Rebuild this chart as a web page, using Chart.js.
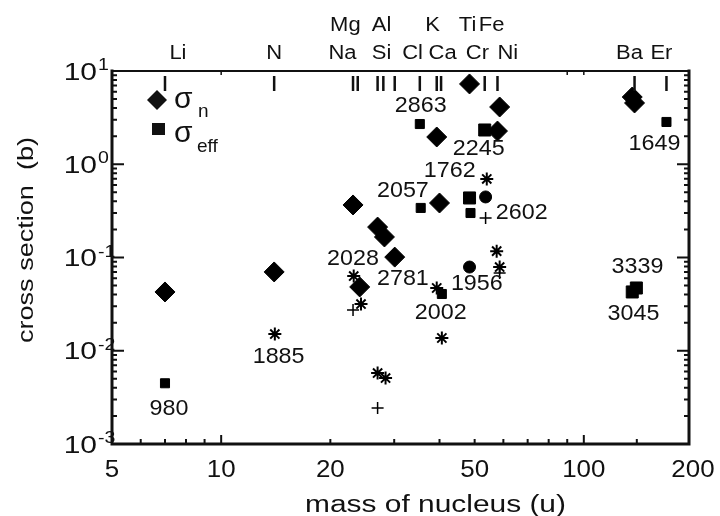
<!DOCTYPE html>
<html>
<head>
<meta charset="utf-8">
<script src="https://cdn.jsdelivr.net/npm/chart.js@4.4.1/dist/chart.umd.min.js"></script>
<style>
  html, body { margin: 0; padding: 0; background: #fff; }
  #wrap { width: 720px; height: 516px; }
</style>
</head>
<body>
<div id="wrap"><canvas id="chart" width="720" height="516"></canvas></div>
<script>
// sigma_n (diamonds)
const diamondMass = [7, 14, 23.1, 27.0, 28.2, 30.1, 24.1, 39.3, 40, 48.4, 58.6, 57.8, 136, 138];
const diamondSigma = [0.0427, 0.070, 0.366, 0.212, 0.166, 0.101, 0.0483, 1.96, 0.384, 7.26, 4.11, 2.27, 5.26, 4.54];
// sigma_eff (squares, small and larger ones)
const squareMass = [7.0, 35.3, 169, 35.5, 48.7, 40.6];
const squareSigma = [0.00448, 2.70, 2.84, 0.340, 0.300, 0.0406];
const bigSquareMass = [53.3, 48.4, 136, 139.6];
const bigSquareSigma = [2.33, 0.435, 0.0427, 0.0471];
// other marks
const circleMass = [53.6, 48.4];
const circleSigma = [0.446, 0.079];
const starMass = [54, 57.5, 58.6, 23.2, 24.3, 14.06, 27.0, 28.4, 39.3, 40.6];
const starSigma = [0.695, 0.117, 0.079, 0.0633, 0.0317, 0.0151, 0.00577, 0.0051, 0.0471, 0.0137];
const plusMass = [53.6, 23.1, 27.0, 58.6];
const plusSigma = [0.265, 0.0274, 0.00243, 0.068];

// number annotations
const noteText = ['980', '1885', '2028', '2781', '2057', '2863', '2245', '1762', '2602', '1649', '1956', '2002', '3339', '3045'];
const noteMass = [7.18, 14.4, 23.1, 31.7, 31.7, 35.5, 51.3, 42.7, 67.4, 156.6, 50.7, 40.3, 140.6, 137.1];
const noteSigma = [0.00243, 0.00879, 0.0988, 0.0603, 0.530, 4.32, 1.49, 0.867, 0.308, 1.69, 0.0533, 0.0261, 0.0811, 0.0254];

// elements along the top
const elementTickMass = [7, 14, 23.1, 23.8, 27, 28, 30.1, 35.3, 39.3, 40.4, 53.3, 57.8, 138, 169];
const upperElements = ['Mg', 'Al', 'K', 'Ti', 'Fe'];
const upperElementMass = [22.0, 27.7, 38.3, 47.8, 55.7];
const lowerElements = ['Li', 'N', 'Na', 'Si', 'Cl', 'Ca', 'Cr', 'Ni', 'Ba', 'Er'];
const lowerElementMass = [7.6, 14, 21.6, 27.7, 33.7, 40.8, 50.9, 61.7, 133.7, 163.7];

// axis ticks
const xTickLabels = [5, 10, 20, 50, 100, 200];
const xMajorTicks = [10, 100];
const xMinorTicks = [6, 7, 8, 9, 20, 30, 40, 50, 60, 70, 80, 90, 140];
const xTopTicks = [10, 90, 100];
const yExponents = [1, 0, -1, -2, -3];

const FONT = '"Liberation Sans", Arial, Helvetica, sans-serif';

function pts(xs, ys) {
  return xs.map((x, i) => ({ x: x, y: ys[i] }));
}

function stretchText(ctx, text, x, y, size, sx, align, baseline) {
  ctx.save();
  ctx.translate(x, y);
  ctx.scale(sx, 1);
  ctx.font = size + 'px ' + FONT;
  ctx.textAlign = align;
  ctx.textBaseline = baseline;
  ctx.fillText(text, 0, 0);
  ctx.restore();
}

const decorPlugin = {
  id: 'decor',
  afterDatasetsDraw(chart) {
    const ctx = chart.ctx;
    const a = chart.chartArea;
    const xs = chart.scales.x;
    const ys = chart.scales.y;
    ctx.save();
    ctx.fillStyle = '#111';
    ctx.strokeStyle = '#111';

    // frame
    ctx.lineCap = 'square';
    ctx.lineWidth = 3;
    ctx.beginPath();
    ctx.moveTo(a.left, a.top); ctx.lineTo(a.left, a.bottom); ctx.lineTo(a.right, a.bottom); ctx.lineTo(a.right, a.top);
    ctx.stroke();
    ctx.lineWidth = 2;
    ctx.beginPath();
    ctx.moveTo(a.left, a.top); ctx.lineTo(a.right, a.top);
    ctx.stroke();
    ctx.lineCap = 'butt';

    // y ticks, both sides
    ctx.lineWidth = 2;
    for (let e = -3; e <= 1; e++) {
      const py = ys.getPixelForValue(Math.pow(10, e));
      ctx.beginPath();
      ctx.moveTo(a.left, py); ctx.lineTo(a.left + 12, py);
      ctx.moveTo(a.right, py); ctx.lineTo(a.right - 12, py);
      ctx.stroke();
      if (e < 1) {
        for (let k = 2; k <= 9; k++) {
          const pm = ys.getPixelForValue(k * Math.pow(10, e));
          ctx.beginPath();
          ctx.moveTo(a.left, pm); ctx.lineTo(a.left + 5, pm);
          ctx.moveTo(a.right, pm); ctx.lineTo(a.right - 5, pm);
          ctx.stroke();
        }
      }
    }
    // x ticks
    xMajorTicks.forEach((v) => {
      const px = xs.getPixelForValue(v);
      ctx.beginPath(); ctx.moveTo(px, a.bottom); ctx.lineTo(px, a.bottom - 9); ctx.stroke();
    });
    xMinorTicks.forEach((v) => {
      const px = xs.getPixelForValue(v);
      ctx.beginPath(); ctx.moveTo(px, a.bottom); ctx.lineTo(px, a.bottom - 5); ctx.stroke();
    });
    ctx.lineWidth = 1.5;
    xTopTicks.forEach((v) => {
      const px = xs.getPixelForValue(v);
      ctx.beginPath(); ctx.moveTo(px, a.top); ctx.lineTo(px, a.top + 4); ctx.stroke();
    });

    // element ticks
    ctx.lineWidth = 2.5;
    elementTickMass.forEach((v) => {
      const px = xs.getPixelForValue(v);
      ctx.beginPath(); ctx.moveTo(px, a.top + 5); ctx.lineTo(px, a.top + 20); ctx.stroke();
    });
    upperElements.forEach((t, i) => {
      stretchText(ctx, t, xs.getPixelForValue(upperElementMass[i]), 25, 20, 1.1, 'center', 'middle');
    });
    lowerElements.forEach((t, i) => {
      stretchText(ctx, t, xs.getPixelForValue(lowerElementMass[i]), 53, 20, 1.1, 'center', 'middle');
    });

    // x tick labels
    xTickLabels.forEach((v) => {
      stretchText(ctx, String(v), xs.getPixelForValue(v), 477, 24, 1.08, 'center', 'alphabetic');
    });
    // y tick labels with superscripts
    yExponents.forEach((e) => {
      const py = ys.getPixelForValue(Math.pow(10, e));
      stretchText(ctx, '10', a.left - 15, py + 8.5, 24, 1.25, 'right', 'alphabetic');
      stretchText(ctx, e < 0 ? '-' + (-e) : String(e), a.left - 14, py - 1, 17, 1.15, 'left', 'alphabetic');
    });

    // axis titles
    stretchText(ctx, 'mass of nucleus (u)', (a.left + a.right) / 2 + 35, 512, 23, 1.3, 'center', 'alphabetic');
    ctx.save();
    ctx.translate(27, 240);
    ctx.rotate(-Math.PI / 2);
    stretchText(ctx, 'cross section  (b)', 0, 0, 22, 1.23, 'center', 'middle');
    ctx.restore();

    // number notes
    noteText.forEach((t, i) => {
      stretchText(ctx, t, xs.getPixelForValue(noteMass[i]), ys.getPixelForValue(noteSigma[i]) + 1, 22, 1.06, 'center', 'middle');
    });

    // legend
    const lx = a.left + 45, ly = a.top + 29;
    ctx.beginPath();
    ctx.moveTo(lx, ly - 10); ctx.lineTo(lx + 10, ly); ctx.lineTo(lx, ly + 10); ctx.lineTo(lx - 10, ly);
    ctx.closePath(); ctx.fill();
    ctx.fillRect(lx - 5, ly + 23, 13, 12);
    stretchText(ctx, '\u03c3', lx + 17, ly + 8, 30, 1.0, 'left', 'alphabetic');
    stretchText(ctx, 'n', lx + 41, ly + 17, 19, 1.0, 'left', 'alphabetic');
    stretchText(ctx, '\u03c3', lx + 17, ly + 42, 30, 1.0, 'left', 'alphabetic');
    stretchText(ctx, 'eff', lx + 40, ly + 52, 19, 1.0, 'left', 'alphabetic');

    ctx.restore();
  }
};

const ctx = document.getElementById('chart');
new Chart(ctx, {
  type: 'scatter',
  data: {
    datasets: [
      { label: 'sigma_n', data: pts(diamondMass, diamondSigma), pointStyle: 'rectRot', pointRadius: 10,
        backgroundColor: '#000', borderColor: '#000', borderWidth: 1 },
      { label: 'sigma_eff', data: pts(squareMass, squareSigma), pointStyle: 'rect', pointRadius: 6.4,
        backgroundColor: '#000', borderColor: '#000', borderWidth: 1 },
      { label: 'sigma_eff big', data: pts(bigSquareMass, bigSquareSigma), pointStyle: 'rect', pointRadius: 8.5,
        backgroundColor: '#000', borderColor: '#000', borderWidth: 1 },
      { label: 'circles', data: pts(circleMass, circleSigma), pointStyle: 'circle', pointRadius: 6,
        backgroundColor: '#000', borderColor: '#000', borderWidth: 1 },
      { label: 'stars', data: pts(starMass, starSigma), pointStyle: 'star', pointRadius: 6.5,
        backgroundColor: '#000', borderColor: '#000', borderWidth: 2 },
      { label: 'plus', data: pts(plusMass, plusSigma), pointStyle: 'cross', pointRadius: 6,
        backgroundColor: '#000', borderColor: '#000', borderWidth: 1.5 },
    ],
  },
  options: {
    responsive: false,
    animation: false,
    layout: { padding: { left: 112, top: 71, right: 31, bottom: 72 } },
    plugins: { legend: { display: false }, tooltip: { enabled: false } },
    elements: { point: { hoverRadius: 0 } },
    scales: {
      x: { type: 'logarithmic', min: 5, max: 195, display: false },
      y: { type: 'logarithmic', min: 0.001, max: 10, display: false },
    },
  },
  plugins: [decorPlugin],
});
</script>
</body>
</html>
